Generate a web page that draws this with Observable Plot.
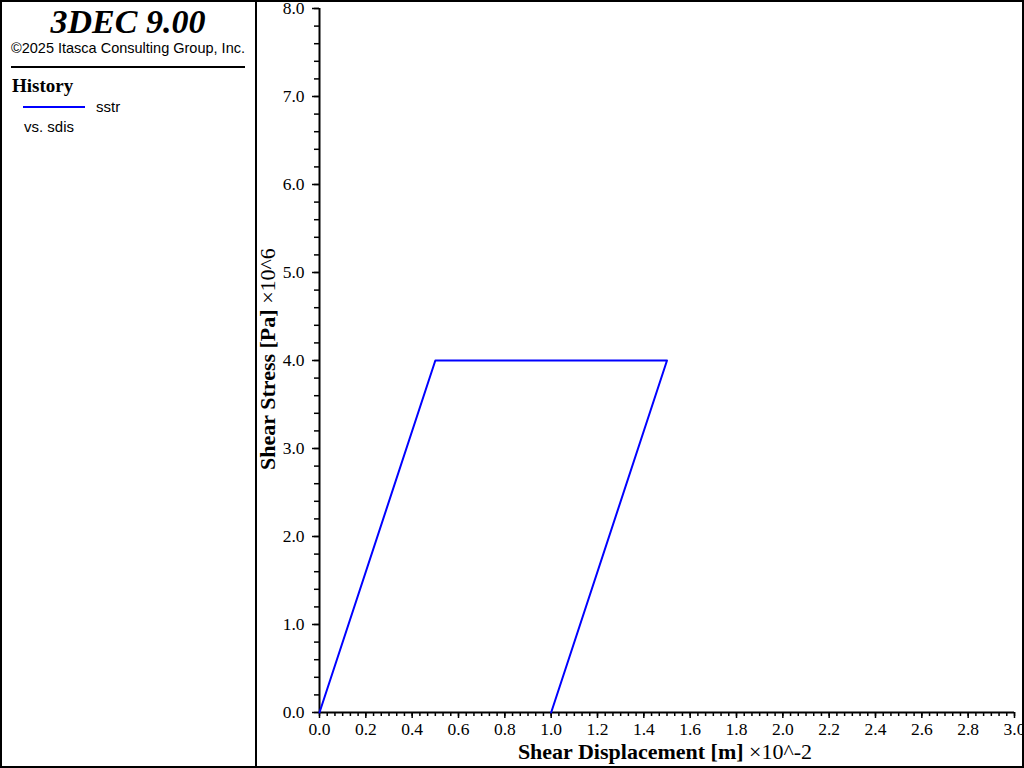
<!DOCTYPE html>
<html>
<head>
<meta charset="utf-8">
<script src="https://cdn.jsdelivr.net/npm/d3@7"></script>
<script src="https://cdn.jsdelivr.net/npm/@observablehq/plot@0.6"></script>
<style>
  html, body { margin: 0; padding: 0; background: #fff; }
  #wrap { position: relative; width: 1024px; height: 768px; overflow: hidden; background: #fff; }
  #chart { position: absolute; left: 0; top: 0; }
  .abs { position: absolute; white-space: nowrap; color: #000; }
  .serif { font-family: "Liberation Serif", "Times New Roman", serif; }
  .sans { font-family: "Liberation Sans", Arial, sans-serif; }
</style>
</head>
<body>
<div id="wrap">
  <div id="chart"></div>
  <div class="abs" style="left:0;top:0;width:1020px;height:764px;border:2px solid #000;"></div>
  <div class="abs" style="left:255px;top:0;width:2px;height:768px;background:#000;"></div>
  <div class="abs serif" style="left:0;width:256px;top:2px;text-align:center;font-size:34px;font-weight:bold;font-style:italic;line-height:40px;">3DEC 9.00</div>
  <div class="abs sans" style="left:0;width:256px;top:39px;text-align:center;font-size:14.5px;line-height:18px;">©2025 Itasca Consulting Group, Inc.</div>
  <div class="abs" style="left:11px;top:66px;width:234px;height:2px;background:#000;"></div>
  <div class="abs serif" style="left:12px;top:75px;font-size:19px;font-weight:bold;line-height:22px;">History</div>
  <div class="abs" style="left:23px;top:106px;width:62px;height:2px;background:#0000ff;"></div>
  <div class="abs sans" style="left:96px;top:98px;font-size:15px;line-height:18px;">sstr</div>
  <div class="abs sans" style="left:24px;top:118px;font-size:15px;line-height:18px;">vs. sdis</div>
  <div class="abs serif" style="left:665px;top:739px;transform:translateX(-50%);font-size:22px;line-height:26px;"><b>Shear Displacement [m]</b> ×10^-2</div>
  <div class="abs serif" style="left:268px;top:359px;transform:translate(-50%,-50%) rotate(-90deg);font-size:22px;line-height:26px;"><b>Shear Stress [Pa]</b> ×10^6</div>
</div>
<script>
// Data (x in units of 1e-2 m, y in units of 1e6 Pa)
const sdis = [0.0, 0.5, 1.5, 1.0];
const sstr = [0.0, 4.0, 4.0, 0.0];

// Tick values
const xMajor = [0.0, 0.2, 0.4, 0.6, 0.8, 1.0, 1.2, 1.4, 1.6, 1.8, 2.0, 2.2, 2.4, 2.6, 2.8, 3.0];
const yMajor = [0.0, 1.0, 2.0, 3.0, 4.0, 5.0, 6.0, 7.0, 8.0];
const xMinorStep = 0.2 / 6;
const yMinorStep = 0.2;

const xMinor = d3.range(0, 90 + 1).map(i => i * xMinorStep);
const yMinor = d3.range(0, 40 + 1).map(i => i * yMinorStep);

const data = sdis.map((x, i) => ({x, y: sstr[i]}));
const fmt = d => d.toFixed(1);

const chart = Plot.plot({
  width: 1024,
  height: 768,
  marginLeft: 319,
  marginRight: 10,
  marginTop: 8,
  marginBottom: 56,
  x: {domain: [0, 3]},
  y: {domain: [0, 8]},
  style: {fontFamily: "Liberation Serif, Times New Roman, serif", fontSize: "17.5px", color: "#000", background: "transparent", overflow: "visible"},
  marks: [
    Plot.axisX(xMinor, {tickSize: 4, text: null, label: null, strokeWidth: 1.5}),
    Plot.axisX(xMajor, {tickSize: 6, tickPadding: 4, tickFormat: fmt, label: null, strokeWidth: 1.5}),
    Plot.axisY(yMinor, {tickSize: 5, text: null, label: null, strokeWidth: 1.5}),
    Plot.axisY(yMajor, {tickSize: 7, tickPadding: 8, tickFormat: fmt, label: null, strokeWidth: 1.5}),
    Plot.ruleY([0], {strokeWidth: 2}),
    Plot.ruleX([0], {strokeWidth: 2}),
    Plot.line(data, {x: "x", y: "y", stroke: "#0000ff", strokeWidth: 2})
  ]
});
document.getElementById("chart").appendChild(chart);
</script>
</body>
</html>
